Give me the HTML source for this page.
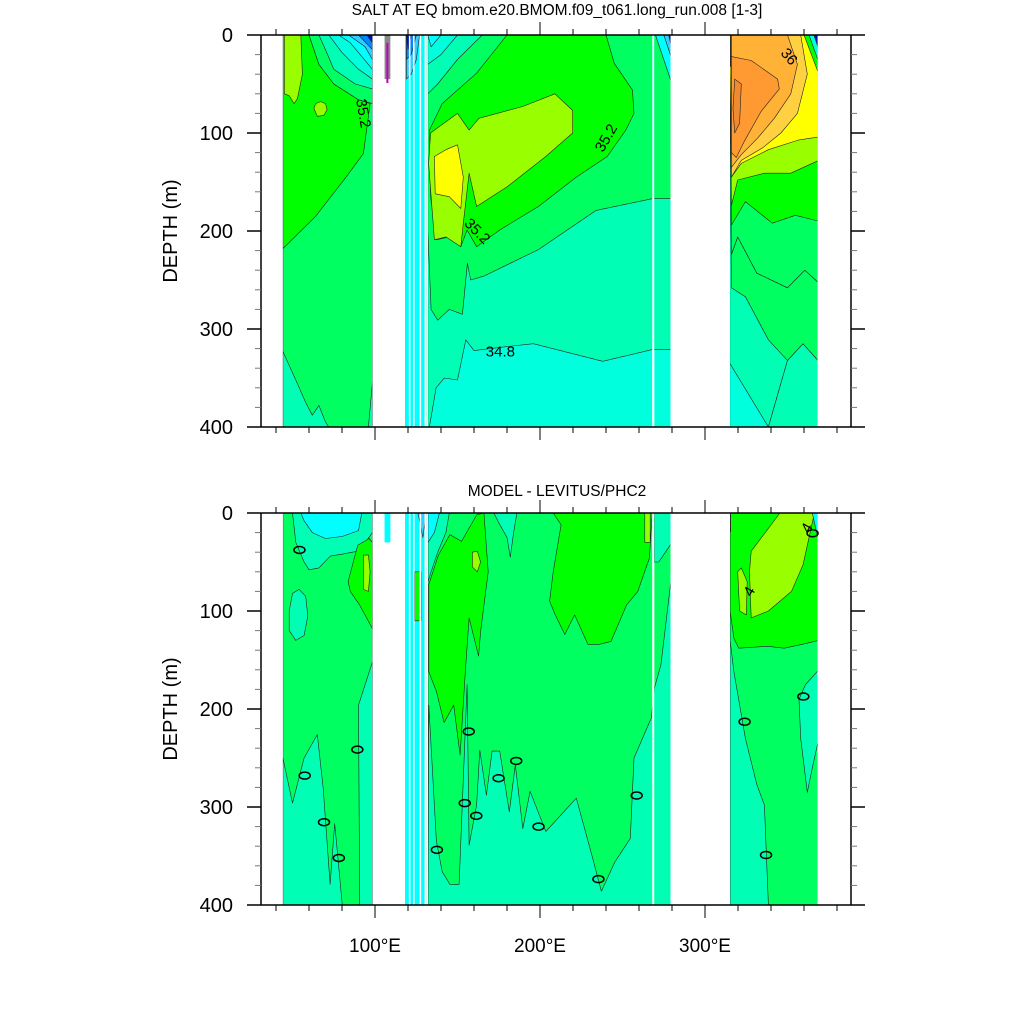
<!DOCTYPE html>
<html><head><meta charset="utf-8">
<style>
html,body{margin:0;padding:0;background:#fff;}
svg text{font-family:"Liberation Sans",sans-serif;}
</style></head>
<body>
<svg id="chart" width="1024" height="1024" viewBox="0 0 1024 1024" xmlns="http://www.w3.org/2000/svg">
<text x="557" y="15" font-size="15.5" text-anchor="middle">SALT AT EQ bmom.e20.BMOM.f09_t061.long_run.008 [1-3]</text>
<text x="557" y="496" font-size="15.5" text-anchor="middle">MODEL - LEVITUS/PHC2</text>
<text transform="translate(177,231) rotate(-90)" font-size="20" text-anchor="middle">DEPTH (m)</text>
<text transform="translate(177,709) rotate(-90)" font-size="20" text-anchor="middle">DEPTH (m)</text>
</svg>
<script>
// ---- data ----
const xTickLons = [40,60,80,100,120,140,160,180,200,220,240,260,280,300,320,340,360,380];
const xMajorLons = [100,200,300];
const xTickLabels = ["100°E","200°E","300°E"];
const yTickDepths = [0,20,40,60,80,100,120,140,160,180,200,220,240,260,280,300,320,340,360,380,400];
const yMajorDepths = [0,100,200,300,400];
const oceanCols = [[44.2,98.4],[118.6,131],[132.1,268],[269.3,279.1],[315.2,368.2]];
const whiteLines = [121,123.5,127.5,130.5,268.6];
const palette = {T:'#00ffdd',A:'#00ffb4',G:'#00ff60',B:'#00ff00',Y5:'#99ff00',Y:'#ffff00',O1:'#ffd040',O2:'#ffb236',O3:'#ff9a33',O4:'#f08a30',C:'#00ffff',L:'#33ccff',M:'#0088ff',D:'#0010b0',K:'#333333',GY:'#888888'};

const topShapes = [
 ['T',[[44,0],[370,0],[370,400],[44,400]]],
 // Indian
 ['G',[[44.2,0],[98.4,0],[98.4,400],[44.2,400]]],
 ['A',[[44.2,323],[52,352],[58,375],[62,388],[66,378],[70,395],[72,400],[44.2,400]]],
 ['A',[[96,400],[98.4,355],[98.4,400]]],
 ['B',[[44.2,0],[60,0],[66,30],[75,50],[90,66],[97,70],[96.5,77],[93,121],[82.5,145],[64,185],[44.2,218]]],
 ['Y5',[[45,0],[55,0],[56,40],[53,65],[51,70],[48,62],[45,60]]],
 ['G',[[60,0],[98.4,0],[98.4,70],[90,66],[75,50],[66,30]]],
 ['A',[[66,0],[98.4,0],[98.4,55],[88,50],[75,35],[70,15]]],
 ['T',[[72,0],[98.4,0],[98.4,45],[90,35],[80,18]]],
 ['C',[[78,0],[98.4,0],[98.4,35],[92,22],[85,8]]],
 ['L',[[84,0],[98.4,0],[98.4,25],[94,12]]],
 ['M',[[90,0],[98.4,0],[98.4,15]]],
 ['D',[[95,0],[98.4,0],[98.4,8]]],
 ['Y5',[[63,75],[64,70],[67,68],[70,70],[71,76],[69,82],[65,83]]],
 // narrow strips
 ['C',[[118.6,0],[131,0],[131,400],[118.6,400]]],
 ['L',[[119,0],[127,0],[125,25],[122,40],[119,45]]],
 ['M',[[119,0],[125,0],[122,20],[119,25]]],
 ['D',[[119,0],[122,0],[120,15]]],
 // Pacific
 ['A',[[132,0],[280,0],[280,321],[268,321],[238,333],[196,315],[180,318],[160,322],[155,311],[150,352],[142,350],[137,360],[133,400],[132,400]]],
 ['G',[[132,0],[280,0],[280,167],[268,167],[234,179],[199,219],[166,246],[158,250],[156,233],[153,285],[145,280],[138,291],[134,280],[132,200]]],
 ['B',[[180,0],[240,0],[245,29],[256,56],[257,80],[252,97],[240.7,124],[222,145],[199,175],[175.6,199],[161.6,216],[155.8,199],[152,216],[145,206],[137,209],[133.7,165],[133,97],[140.7,70],[161.6,39]]],
 ['Y5',[[136,97],[150,80],[157,97],[163,85],[189.5,73],[209,60],[219.8,77],[219.8,100],[203.5,124],[180,155],[161.6,175],[157,141],[153.5,192],[152,216],[143,206],[136,209],[132.5,131],[133.7,100]]],
 ['Y',[[136,124],[143,117],[150,112],[153.5,145],[152,177],[145,165],[136.5,162]]],
 ['A',[[132,0],[165,0],[150,25],[138,50],[132,60]]],
 ['T',[[132,0],[150,0],[140,20],[132,30]]],
 ['C',[[132,0],[140,0],[134,12]]],
 ['C',[[270,0],[280,0],[280,50],[274,20]]],
 ['L',[[275,0],[280,0],[280,25]]],
 ['D',[[278,0],[280,0],[280,15]]],
 // Atlantic
 ['T',[[315,0],[369,0],[369,400],[315,400]]],
 ['A',[[315,0],[369,0],[369,333],[359.4,315],[350,332],[338.4,400],[315,400],[315,335]]],
 ['T',[[315,335],[338.4,400],[315,400]]],
 ['A',[[338.4,400],[350,332],[359.4,315],[369,333],[369,400]]],
 ['G',[[315,0],[369,0],[369,333],[359.4,315],[350,332],[338.4,311],[324.5,267],[316,258]]],
 ['B',[[315,0],[369,0],[369,253],[360.5,240],[350,258],[331.4,243],[319.8,206],[316,224]]],
 ['G',[[315,0],[369,0],[369,253],[360.5,240],[350,258],[331.4,243],[319.8,206],[316,224]]],
 ['B',[[315,0],[369,0],[369,190],[354.7,184],[340.8,192],[324.5,170],[316,194]]],
 ['Y5',[[315,0],[369,0],[369,128],[352,141],[336,141],[319.8,148],[316,174]]],
 ['Y',[[315,0],[369,0],[369,104],[357,107],[338.4,117],[322,131],[316,145]]],
 ['O1',[[316,0],[358,0],[362,40],[356,80],[346,100],[335,115],[322,128],[316,145]]],
 ['O2',[[316,0],[350,0],[356,30],[352,60],[342,85],[332,105],[322,122],[316,135]]],
 ['O3',[[316,22],[328,26],[344,45],[345,55],[334,78],[324,108],[319,125],[316,120]]],
 ['O4',[[318,45],[322,50],[321,90],[318,100],[317,75]]],
 ['B',[[360,0],[369,0],[369,40]]],
 ['T',[[363,0],[369,0],[369,28]]],
 ['D',[[366,0],[369,0],[369,15]]],
 ['K',[[312.5,0],[315.6,0],[315.6,32],[313,32]]]
];

const botShapes = [
 // Indian
 ['G',[[44.2,0],[98.4,0],[98.4,400],[44.2,400]]],
 ['A',[[44.2,250],[50,296],[57,250],[65,226],[68.6,281],[72.8,379],[75.6,317],[80.2,400],[44.2,400]]],
 ['A',[[90.7,400],[90,196],[98.4,152],[98.4,400]]],
 ['A',[[50,0],[98.4,0],[98.4,20],[92,35],[89.5,39],[80,42],[73,44],[66,56],[60,58],[57,50],[52,30]]],
 ['C',[[55,0],[92,0],[90,18],[80,24],[70,26],[62,20],[57,8]]],
 ['A',[[48,100],[50,82],[54,78],[58,85],[59.3,105],[57,125],[52,130],[48,120]]],
 ['B',[[83.7,70],[89.5,33],[96.5,26],[98.4,30],[98.4,118],[90.7,94],[85,80]]],
 ['Y5',[[93,43],[96,43],[97,60],[96,80],[93,78]]],
 // narrow strips
 ['C',[[118.6,0],[131,0],[131,400],[118.6,400]]],
 ['B',[[124,60],[128,60],[128,110],[124,110]]],
 ['L',[[126,0],[131,0],[129,25]]],
 // Pacific
 ['G',[[132.1,0],[280,0],[280,400],[132.1,400]]],
 ['A',[[132.6,196],[137.2,335],[140.7,366],[145.4,379],[151,379],[155.8,175],[157,339],[161.6,298],[163.5,242],[167.5,288],[171,243],[175.6,243],[181.4,305],[185,257],[189.6,322],[194,284],[203.5,325],[222,291],[231.4,349],[237.2,386],[245.4,356],[254.7,332],[257,250],[267.5,209],[269.3,179],[273.3,155],[280,60],[280,400],[132.1,400]]],
 ['A',[[269.3,0],[280,0],[280,30],[276,40],[272,50],[269.3,50]]],
 ['A',[[172,0],[186,0],[184,20],[182,45],[180,25],[175,10]]],
 ['A',[[132.1,0],[145,0],[143,20],[138,40],[134,60],[132.1,70]]],
 ['C',[[132.1,0],[139,0],[136,20],[132.1,30]]],
 ['B',[[132.6,73],[138.4,43],[145.4,22],[152.4,29],[161.6,2],[166,0],[168.6,60],[164,121],[162.8,146],[157,107],[154.7,162],[151.6,247],[147.7,196],[141.9,214],[137.2,182],[132.6,162]]],
 ['Y5',[[159,40],[162,39],[164,50],[162,60],[159,55]]],
 ['B',[[208,0],[268,0],[266.3,46],[259.3,80],[252.4,94],[243,131],[236,134],[229,134],[221,104],[215,124],[209.3,104],[205.8,90],[208,60],[212.8,12]]],
 ['Y5',[[263.5,0],[266.8,0],[266.8,30],[263.5,30]]],
 // Atlantic
 ['A',[[315.2,0],[369,0],[369,400],[315.2,400]]],
 ['G',[[315.2,0],[369,0],[369,160],[361,175],[357,190],[358,230],[362,285],[365,260],[369,230],[369,400],[338.4,400],[336,298],[331.4,277],[324.5,230],[317.5,162],[315.2,130]]],
 ['B',[[315.2,0],[369,0],[369,130],[359,134],[348,138],[338,136],[320.5,138],[317.5,128],[315.2,100]]],
 ['Y5',[[328,39],[345.4,0],[366.3,0],[359.4,53],[352.4,80],[338.4,100],[328,107],[327,60]]],
 ['Y5',[[319.8,60],[322,56],[325.6,70],[325,104],[321,100]]],
 ['C',[[365,0],[369,0],[369,30]]],
 ['K',[[312.5,0],[315.6,0],[315.6,19],[313,19]]]
];

const zeroLabels = [[54.2,37.7],[57.4,268],[69.1,315.5],[78.1,352],[89.3,241.4],[137.5,343.7],[154.4,296],[156.8,223],[161.4,309],[174.9,270.6],[185.6,253],[199.1,320],[235.4,373.6],[258.6,288.3],[324,213],[359.6,187.3],[337,349],[365.2,20.7]];
const topLabels = [["35.2",93,80,80],["35.2",240,105,-60],["35.2",162,200,45],["34.8",176,323,0],["36",351,22,50]];
const botLabels = [["4",326.8,80,-60],["4",361.7,15,-60]];

// ---- helpers ----
const NS='http://www.w3.org/2000/svg';
const svg=document.getElementById('chart');
const X=lon=>375+(lon-100)*1.65;
const Y=(d,top)=>top+d*0.98;
function mk(tag,attrs,parent){const e=document.createElementNS(NS,tag);for(const k in attrs)e.setAttribute(k,attrs[k]);(parent||svg).appendChild(e);return e;}

function drawPanel(top,shapes,name,labels,showXLabels,strip){
  const clipId='clip-'+name;
  const cp=mk('clipPath',{id:clipId});
  oceanCols.forEach(c=>mk('rect',{x:X(c[0]),y:Y(0,top),width:X(c[1])-X(c[0]),height:400*0.98},cp));
  const g=mk('g',{'clip-path':'url(#'+clipId+')'});
  
  
  shapes.forEach(s=>{
    const p=mk('polygon',{points:s[1].map(q=>X(q[0]).toFixed(1)+','+Y(q[1],top).toFixed(1)).join(' '),fill:palette[s[0]],stroke:'#222','stroke-width':0.6,'stroke-linejoin':'round'},g);
    
    
  });
  whiteLines.forEach(l=>{const r=mk('rect',{x:X(l)-0.8,y:Y(0,top),width:1.6,height:392,fill:'#fff'});
    
    });
  const st=mk('rect',{x:X(105.8),y:Y(0,top),width:X(109.3)-X(105.8),height:strip.d*0.98,fill:palette[strip.c]});
  
  
  if(strip.c==='GY'){const ml=mk('line',{x1:X(107.5),y1:Y(8,top),x2:X(107.5),y2:Y(49,top),stroke:'#c000c0','stroke-width':2});
    
    }
  const ax=mk('g',{stroke:'#000','stroke-width':1.5,fill:'none'});
  
  
  const y0=Y(0,top),y4=Y(400,top);
  mk('line',{x1:261,y1:y0,x2:851,y2:y0},ax);
  mk('line',{x1:261,y1:y4,x2:851,y2:y4},ax);
  mk('line',{x1:261,y1:y0,x2:261,y2:y4},ax);
  mk('line',{x1:851,y1:y0,x2:851,y2:y4},ax);
  yTickDepths.forEach(d=>{
    const maj=yMajorDepths.includes(d);const len=maj?14:6;
    mk('line',{x1:261-len,y1:Y(d,top),x2:261,y2:Y(d,top),'stroke-width':maj?1.5:1,stroke:maj?'#000':'#777'},ax);
    mk('line',{x1:851,y1:Y(d,top),x2:851+len,y2:Y(d,top),'stroke-width':maj?1.5:1,stroke:maj?'#000':'#777'},ax);
    if(maj){const t=mk('text',{x:233,y:Y(d,top)+7,'font-size':20,'text-anchor':'end'});t.textContent=d;
      
      }
  });
  xTickLons.forEach(l=>{
    const maj=xMajorLons.includes(l);const len=maj?13:6;
    mk('line',{x1:X(l),y1:y0-len,x2:X(l),y2:y0,'stroke-width':1},ax);
    mk('line',{x1:X(l),y1:y4,x2:X(l),y2:y4+len,'stroke-width':1},ax);
  });
  if(showXLabels){xMajorLons.forEach((l,i)=>{const t=mk('text',{x:X(l),y:y4+47,'font-size':19,'text-anchor':'middle'});t.textContent=xTickLabels[i];
    
    });}
  labels.forEach(lb=>{
    const t=mk('text',{x:0,y:0,'font-size':15,'text-anchor':'middle',transform:'translate('+X(lb[1])+','+Y(lb[2],top)+') rotate('+lb[3]+')',dy:5});
    t.textContent=lb[0];
    
    
  });
}
drawPanel(35,topShapes,'top-panel',topLabels,false,{c:'GY',d:45});
drawPanel(513,botShapes,'bottom-panel',botLabels,true,{c:'C',d:30});
zeroLabels.forEach(z=>{
  const e=mk('ellipse',{cx:X(z[0]),cy:Y(z[1],513),rx:5.5,ry:3.5,fill:'none',stroke:'#000','stroke-width':1.5});
  
  
});
</script>
</body></html>
